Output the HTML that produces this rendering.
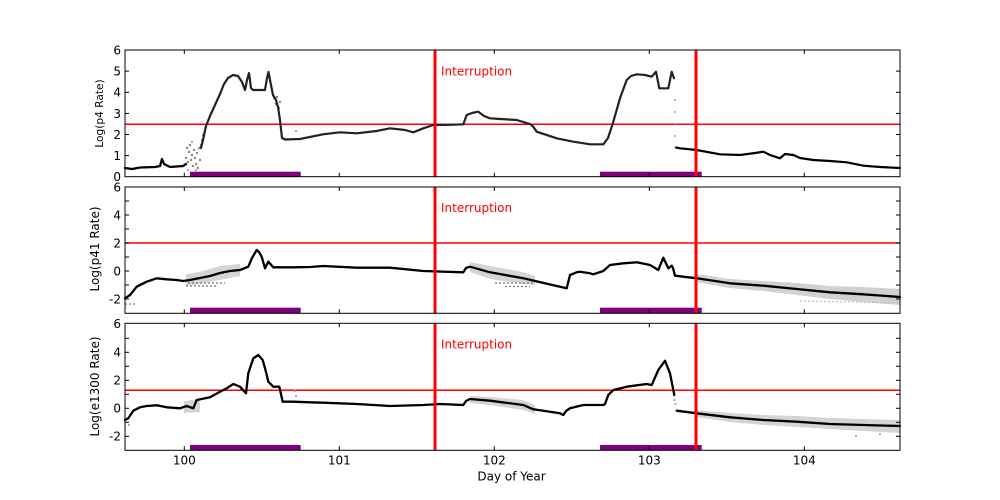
<!DOCTYPE html>
<html><head><meta charset="utf-8"><style>
html,body{margin:0;padding:0;background:#fff;}
svg{display:block;}
text{font-family:"DejaVu Sans","Liberation Sans",sans-serif;fill:#000;}
</style></head><body>
<svg width="1000" height="500" viewBox="0 0 1000 500" xmlns="http://www.w3.org/2000/svg">
<rect width="1000" height="500" fill="#fff"/>

<!-- ============ PANEL 1 ============ -->
<g>
<line x1="125" y1="124.2" x2="900" y2="124.2" stroke="#f00" stroke-width="1.5"/>
<g fill="#888">
<circle cx="186" cy="158" r="1.2"/><circle cx="187" cy="148" r="1.2"/><circle cx="188" cy="162" r="1.2"/><circle cx="189" cy="152" r="1.2"/><circle cx="190" cy="145" r="1.2"/><circle cx="191" cy="160" r="1.2"/><circle cx="192" cy="155" r="1.2"/><circle cx="193" cy="166" r="1.2"/><circle cx="194" cy="150" r="1.2"/><circle cx="195" cy="158" r="1.2"/><circle cx="196" cy="164" r="1.2"/><circle cx="197" cy="153" r="1.2"/><circle cx="198" cy="168" r="1.2"/><circle cx="199" cy="148" r="1.2"/><circle cx="200" cy="160" r="1.2"/><circle cx="201" cy="145" r="1.2"/><circle cx="202" cy="140" r="1.2"/><circle cx="203" cy="135" r="1.2"/><circle cx="188" cy="170" r="1"/><circle cx="192" cy="142" r="1"/><circle cx="196" cy="170" r="1"/>
<circle cx="274" cy="98" r="1.2"/><circle cx="276" cy="104" r="1.2"/><circle cx="277" cy="97" r="1.2"/><circle cx="279" cy="108" r="1.2"/><circle cx="280" cy="102" r="1.2"/>
<circle cx="296" cy="131" r="1"/><circle cx="675" cy="100" r="0.9"/><circle cx="675" cy="112" r="0.9"/><circle cx="675" cy="124" r="0.9"/><circle cx="675" cy="136" r="0.9"/>
</g>
<polyline fill="none" stroke="#000" stroke-width="2.3" stroke-linejoin="round" stroke-linecap="round"
points="125,168 132,169 140,167.5 155,167 160,166 162,159 164,164 170,167 183,166 186,164"/>
<polyline fill="none" stroke="#222" stroke-width="2.2" stroke-linejoin="round" stroke-linecap="round"
points="201,148 203,140 206,126 210,116 215,105 220,94 224,84 228,78 233,75 238,76 242,82 245,90 247,80 249,73 251,88 253,90 265,90 267,78 268.5,72 270,80 273,95 276,100 278,107 280,120 282,138 285,139.5 300,139 323,134.3 340,132.3 356.7,133.3 376.7,131 390,128.3 405,130 413.3,132.3 423.3,128.3 433.3,125 450,124.8 463.3,124.3 466.7,115 472,113 478.3,111.7 484,116 490,118.3 500,119 516.7,120 530,124 533.3,126.7 536.7,131.7 556.7,138.3 573.3,141.7 590,144.3 603.3,144.3 608,138 613.3,121.7 620,98.3 626.7,80 631,76 636.7,74.3 645,75 651.7,76.7 656,71.7 659.3,88.3 668.3,88.3 671.7,71.7 674,78.3"/>
<polyline fill="none" stroke="#000" stroke-width="2.2" stroke-linejoin="round" stroke-linecap="round"
points="676,147.5 680,148.3 696.7,150 720,154.3 740,155 755,153 763.3,151.7 770,155 780,158.3 785,154 793.3,155 800,158 813.3,160 830,161 846.7,162.3 863.3,165.7 880,167 900,168"/>
<rect x="190" y="171.7" width="110.7" height="5.3" fill="#800080"/>
<rect x="600" y="171.7" width="101.7" height="5.3" fill="#800080"/>
<line x1="435" y1="50" x2="435" y2="177" stroke="#f00" stroke-width="3"/>
<line x1="696" y1="50" x2="696" y2="177" stroke="#f00" stroke-width="3"/>
<text x="441" y="75.5" font-size="12" style="fill:#f00">Interruption</text>
<rect x="125" y="50" width="775" height="126.7" fill="none" stroke="#000" stroke-width="1"/>
<g stroke="#000" stroke-width="1">
<line x1="125" y1="155.6" x2="129" y2="155.6"/><line x1="125" y1="134.5" x2="129" y2="134.5"/><line x1="125" y1="113.4" x2="129" y2="113.4"/><line x1="125" y1="92.3" x2="129" y2="92.3"/><line x1="125" y1="71.1" x2="129" y2="71.1"/>
<line x1="896" y1="155.6" x2="900" y2="155.6"/><line x1="896" y1="134.5" x2="900" y2="134.5"/><line x1="896" y1="113.4" x2="900" y2="113.4"/><line x1="896" y1="92.3" x2="900" y2="92.3"/><line x1="896" y1="71.1" x2="900" y2="71.1"/>
<line x1="184.3" y1="50" x2="184.3" y2="54"/><line x1="339.3" y1="50" x2="339.3" y2="54"/><line x1="494.3" y1="50" x2="494.3" y2="54"/><line x1="649.3" y1="50" x2="649.3" y2="54"/><line x1="804.3" y1="50" x2="804.3" y2="54"/>
<line x1="184.3" y1="176.7" x2="184.3" y2="172.7"/><line x1="339.3" y1="176.7" x2="339.3" y2="172.7"/><line x1="494.3" y1="176.7" x2="494.3" y2="172.7"/><line x1="649.3" y1="176.7" x2="649.3" y2="172.7"/><line x1="804.3" y1="176.7" x2="804.3" y2="172.7"/>
</g>
<g font-size="12" text-anchor="end">
<text x="121" y="181">0</text><text x="121" y="160">1</text><text x="121" y="139">2</text><text x="121" y="117.8">3</text><text x="121" y="96.7">4</text><text x="121" y="75.5">5</text><text x="121" y="54.4">6</text>
</g>
<text transform="translate(103,113.5) rotate(-90)" font-size="10.6" text-anchor="middle">Log(p4 Rate)</text>
</g>

<!-- ============ PANEL 2 ============ -->
<g>
<line x1="125" y1="243" x2="900" y2="243" stroke="#f00" stroke-width="1.5"/>
<polygon fill="#999" opacity="0.45" points="696,274 730,279 763,281 797,283 830,286 863,287 900,289 900,305 863,302 830,299 797,295 763,291 730,288 696,282"/>
<polygon fill="#aaa" opacity="0.5" points="186,274 200,272 220,266 240,264 240,276 220,280 200,284 186,286"/>
<polygon fill="#aaa" opacity="0.5" points="470,262 490,266 523,272 535,276 535,285 523,284 490,279 470,272"/>
<g stroke="#777" stroke-width="1.2" stroke-dasharray="2,2">
<line x1="186" y1="286" x2="218" y2="286"/><line x1="188" y1="283" x2="225" y2="283"/>
<line x1="495" y1="283" x2="535" y2="283"/><line x1="505" y1="286.5" x2="530" y2="286.5"/>
<line x1="125" y1="304" x2="135" y2="304"/>
<line x1="800" y1="301" x2="900" y2="303" stroke="#bbb"/>
</g>
<polyline fill="none" stroke="#000" stroke-width="2.3" stroke-linejoin="round" stroke-linecap="round"
points="125,298.3 130,295 136.7,286.7 146.7,281.7 156.7,278.3 166.7,279.3 176.7,280 183.3,281 190,280 200,278 210,276 220,273 230,271 240,270 248.3,266.7 252,258 256.7,250 259,252 261.7,256.7 265,268.3 268.3,261.7 273.3,267.3 280,267.3 293.3,267.3 310,267 323.3,266 356.7,267.7 390,267.7 423.3,271 463.3,272.3 466,268 470,266.7 490,272.3 523.3,278.3 556.7,286 566.7,288.3 570,275 576.7,272.3 580,271.7 590,273.3 593.3,274.3 603.3,271 610,265 623.3,263.3 636.7,262.3 650,265 658.3,270 663.3,257.7 668.3,268.3 671.7,265.7 673,268 675,275.7 696.7,278.3 730,283.3 763.3,285.7 796.7,289 830,292.3 863.3,294.3 900,297"/>
<rect x="190" y="307.7" width="110.7" height="5.6" fill="#800080"/>
<rect x="600" y="307.7" width="101.7" height="5.6" fill="#800080"/>
<line x1="435" y1="187" x2="435" y2="313.3" stroke="#f00" stroke-width="3"/>
<line x1="696" y1="187" x2="696" y2="313.3" stroke="#f00" stroke-width="3"/>
<text x="441" y="212" font-size="12" style="fill:#f00">Interruption</text>
<rect x="125" y="187" width="775" height="126.3" fill="none" stroke="#000" stroke-width="1"/>
<g stroke="#000" stroke-width="1">
<line x1="125" y1="299" x2="129" y2="299"/><line x1="125" y1="285" x2="129" y2="285"/><line x1="125" y1="271" x2="129" y2="271"/><line x1="125" y1="257" x2="129" y2="257"/><line x1="125" y1="243" x2="129" y2="243"/><line x1="125" y1="229" x2="129" y2="229"/><line x1="125" y1="215" x2="129" y2="215"/><line x1="125" y1="201" x2="129" y2="201"/>
<line x1="896" y1="299" x2="900" y2="299"/><line x1="896" y1="285" x2="900" y2="285"/><line x1="896" y1="271" x2="900" y2="271"/><line x1="896" y1="257" x2="900" y2="257"/><line x1="896" y1="243" x2="900" y2="243"/><line x1="896" y1="229" x2="900" y2="229"/><line x1="896" y1="215" x2="900" y2="215"/><line x1="896" y1="201" x2="900" y2="201"/>
<line x1="184.3" y1="187" x2="184.3" y2="191"/><line x1="339.3" y1="187" x2="339.3" y2="191"/><line x1="494.3" y1="187" x2="494.3" y2="191"/><line x1="649.3" y1="187" x2="649.3" y2="191"/><line x1="804.3" y1="187" x2="804.3" y2="191"/>
<line x1="184.3" y1="313.3" x2="184.3" y2="309.3"/><line x1="339.3" y1="313.3" x2="339.3" y2="309.3"/><line x1="494.3" y1="313.3" x2="494.3" y2="309.3"/><line x1="649.3" y1="313.3" x2="649.3" y2="309.3"/><line x1="804.3" y1="313.3" x2="804.3" y2="309.3"/>
</g>
<g font-size="12" text-anchor="end">
<text x="121" y="303.3">-2</text><text x="121" y="275.3">0</text><text x="121" y="247.3">2</text><text x="121" y="219.3">4</text><text x="121" y="191.3">6</text>
</g>
<text transform="translate(99,249) rotate(-90)" font-size="12" text-anchor="middle">Log(p41 Rate)</text>
</g>

<!-- ============ PANEL 3 ============ -->
<g>
<line x1="125" y1="390.3" x2="900" y2="390.3" stroke="#f00" stroke-width="1.5"/>
<polygon fill="#999" opacity="0.42" points="696,410 730,413 763,415 797,416 830,418 863,419 900,420 900,433 863,431 830,429 797,427 763,425 730,422 696,417"/>
<polygon fill="#aaa" opacity="0.5" points="470,396 490,397 523,400 535,405 535,414 523,410 490,405 470,403"/>
<polygon fill="#aaa" opacity="0.5" points="184,401 200,399 200,412 184,413"/>
<g fill="#999">
<circle cx="129" cy="425" r="1"/><circle cx="295" cy="391" r="1"/><circle cx="296" cy="396" r="1"/><circle cx="856" cy="436" r="1"/><circle cx="880" cy="434" r="1"/><circle cx="674.5" cy="400" r="1"/><circle cx="675.5" cy="404" r="1"/>
</g>
<polyline fill="none" stroke="#000" stroke-width="2.3" stroke-linejoin="round" stroke-linecap="round"
points="125,420 128.3,418.3 133.3,410.7 140,407.3 146.7,406 156.7,405.3 166.7,407.3 180,408.3 186.7,406 193.3,408.3 196.7,400 210,397.3 220,391.7 226.7,388.3 233.3,384 240,386.7 246,393.3 248.3,373.3 253.3,358.3 258.3,355 262.7,360 266,372 268.3,381.7 273.3,386.7 279.3,386.7 282.7,401.7 293.3,401.7 310,402.3 323.3,402.7 356.7,404 390,406 423.3,405 440,404 463.3,405 466,401 470,399 490,400.7 523.3,405 533.3,409.3 560,413.3 563.3,415 566,411 570,408.3 583.3,405 603.3,405 605,404 608.3,395 613.3,390 626.7,386.7 646.7,384 651.7,385 658.3,370 665,360.7 670,373.3 674.3,395"/>
<polyline fill="none" stroke="#000" stroke-width="2.3" stroke-linejoin="round" stroke-linecap="round"
points="676.7,410.7 696.7,413.3 730,417.3 763.3,420 796.7,421.7 830,424 863.3,425 900,426"/>
<rect x="190" y="445" width="110.7" height="5.3" fill="#800080"/>
<rect x="600" y="445" width="101.7" height="5.3" fill="#800080"/>
<line x1="435" y1="323.3" x2="435" y2="450.3" stroke="#f00" stroke-width="3"/>
<line x1="696" y1="323.3" x2="696" y2="450.3" stroke="#f00" stroke-width="3"/>
<text x="441" y="348.5" font-size="12" style="fill:#f00">Interruption</text>
<rect x="125" y="323.3" width="775" height="127" fill="none" stroke="#000" stroke-width="1"/>
<g stroke="#000" stroke-width="1">
<line x1="125" y1="436.3" x2="129" y2="436.3"/><line x1="125" y1="422.3" x2="129" y2="422.3"/><line x1="125" y1="408.3" x2="129" y2="408.3"/><line x1="125" y1="394.3" x2="129" y2="394.3"/><line x1="125" y1="380.3" x2="129" y2="380.3"/><line x1="125" y1="366.3" x2="129" y2="366.3"/><line x1="125" y1="352.3" x2="129" y2="352.3"/><line x1="125" y1="338.3" x2="129" y2="338.3"/>
<line x1="896" y1="436.3" x2="900" y2="436.3"/><line x1="896" y1="422.3" x2="900" y2="422.3"/><line x1="896" y1="408.3" x2="900" y2="408.3"/><line x1="896" y1="394.3" x2="900" y2="394.3"/><line x1="896" y1="380.3" x2="900" y2="380.3"/><line x1="896" y1="366.3" x2="900" y2="366.3"/><line x1="896" y1="352.3" x2="900" y2="352.3"/><line x1="896" y1="338.3" x2="900" y2="338.3"/>
<line x1="184.3" y1="323.3" x2="184.3" y2="327.3"/><line x1="339.3" y1="323.3" x2="339.3" y2="327.3"/><line x1="494.3" y1="323.3" x2="494.3" y2="327.3"/><line x1="649.3" y1="323.3" x2="649.3" y2="327.3"/><line x1="804.3" y1="323.3" x2="804.3" y2="327.3"/>
<line x1="184.3" y1="450.3" x2="184.3" y2="446.3"/><line x1="339.3" y1="450.3" x2="339.3" y2="446.3"/><line x1="494.3" y1="450.3" x2="494.3" y2="446.3"/><line x1="649.3" y1="450.3" x2="649.3" y2="446.3"/><line x1="804.3" y1="450.3" x2="804.3" y2="446.3"/>
</g>
<g font-size="12" text-anchor="end">
<text x="121" y="440.6">-2</text><text x="121" y="412.6">0</text><text x="121" y="384.6">2</text><text x="121" y="356.6">4</text><text x="121" y="328">6</text>
</g>
<text transform="translate(99,386.5) rotate(-90)" font-size="12" text-anchor="middle">Log(e1300 Rate)</text>
</g>

<g font-size="12" text-anchor="middle">
<text x="184.3" y="464.5">100</text><text x="339.3" y="464.5">101</text><text x="494.3" y="464.5">102</text><text x="649.3" y="464.5">103</text><text x="804.3" y="464.5">104</text>
</g>
<text x="511.5" y="480.5" font-size="12" text-anchor="middle">Day of Year</text>
</svg>
</body></html>
